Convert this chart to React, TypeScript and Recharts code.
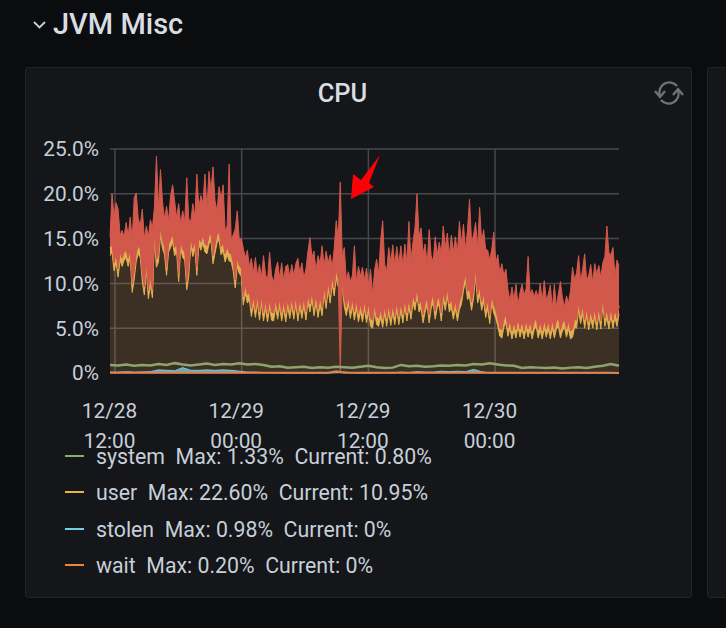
import { Area, CartesianGrid, ComposedChart, XAxis, YAxis, Line } from "recharts";

// user cpu, lower edge of the busy band, one reading per sample
const userValues = [
  13.1, 13.5, 11.4, 12.4, 10.7, 12.6, 11.9, 12.6, 12.8, 11.9,
  12.9, 9.0, 10.5, 12.5, 13.3, 12.9, 10.2, 8.7, 11.5, 8.3,
  9.8, 8.4, 15.0, 11.8, 12.4, 15.4, 13.9, 13.2, 10.9, 13.5,
  14.0, 14.6, 13.1, 13.5, 10.2, 13.9, 12.9, 12.6, 9.3, 10.8,
  14.3, 13.0, 13.9, 10.9, 14.3, 13.7, 14.5, 13.5, 13.3, 14.4,
  14.7, 12.2, 13.4, 14.5, 14.9, 13.2, 13.6, 12.4, 13.2, 12.5,
  12.4, 11.4, 9.5, 11.9, 11.1, 10.8, 7.6, 8.9, 7.8, 8.2,
  6.3, 7.7, 6.2, 7.8, 5.9, 7.7, 5.8, 7.2, 5.7, 7.3,
  5.9, 5.8, 7.3, 6.0, 7.4, 5.8, 7.2, 5.7, 7.4, 6.1,
  7.5, 6.0, 7.7, 5.8, 7.4, 6.1, 7.5, 5.9, 7.9, 6.8,
  8.2, 6.4, 7.8, 6.2, 7.6, 6.4, 8.8, 7.2, 9.3, 7.8,
  9.9, 8.6, 10.6, 9.6, 0.0, 9.5, 7.4, 6.4, 7.7, 6.1,
  7.4, 5.9, 7.2, 5.7, 6.8,
  5.7, 7.2, 5.6, 6.9, 5.2, 5.0, 6.8, 5.4, 5.2, 6.2,
  5.1, 6.6, 5.2, 6.8, 5.3, 6.7, 5.4, 7.1, 5.4, 7.0,
  5.6, 7.4, 5.8, 7.4, 6.0, 7.8, 7.0, 8.6, 6.8, 7.2,
  5.6, 6.8, 7.6, 5.6, 7.2, 7.9, 6.0, 7.3, 7.6, 5.8,
  8.1, 7.0, 8.6, 6.8, 7.3, 6.0, 7.2, 5.8, 7.1, 7.7,
  9.2, 10.2, 8.2, 8.5, 7.0, 8.4, 10.8, 7.8, 8.7, 7.0,
  8.0, 6.2, 7.2, 5.5, 7.8, 6.7, 6.1, 5.2, 4.1, 3.9,
  5.1, 5.6, 4.1, 5.0, 3.8, 4.8, 3.9, 5.2, 4.0, 4.9,
  3.8, 5.0, 4.0, 4.9, 3.8, 4.8, 5.2, 3.9, 4.8, 3.8,
  5.0, 4.0, 4.9, 3.8, 5.0, 3.9, 4.9, 5.2, 3.9, 4.7,
  5.1, 4.0, 4.9, 3.8, 4.0, 5.1, 5.0, 7.0, 5.5, 6.6,
  5.0, 6.4, 4.8, 6.1, 5.0, 6.3, 4.8, 6.5, 4.9, 7.6,
  5.2, 6.2, 4.9, 6.4, 5.0, 6.2, 5.2, 6.6,
];

// top of the red band
const peakValues = [
  15.2, 20.0, 17.5, 19.0, 18.3, 15.4, 15.9, 15.2, 16.8, 15.3,
  17.4, 14.9, 19.6, 20.1, 17.2, 16.5, 18.3, 15.0, 16.4, 15.2,
  17.1, 16.2, 18.5, 24.2, 18.4, 22.7, 19.1, 17.2, 18.6, 17.0,
  19.8, 21.0, 19.2, 17.3, 18.9, 16.6, 18.1, 16.9, 21.8, 17.2,
  16.9, 18.9, 17.4, 22.2, 18.5, 19.8, 18.9, 22.2, 18.3, 22.5,
  20.4, 23.0, 19.2, 18.1, 20.8, 19.4, 21.0, 15.9, 16.4, 23.3,
  14.9, 15.4, 16.1, 18.1, 14.9, 15.0, 13.9, 12.9, 13.7, 11.9,
  12.8, 11.2, 12.9, 10.9, 12.1, 10.7, 13.1, 11.0, 10.4, 13.5,
  10.9, 10.1, 11.6, 12.4, 10.6, 12.3, 10.3, 11.9, 12.1, 10.7,
  12.1, 10.9, 12.2, 12.8, 11.1, 12.3, 10.6, 11.6, 13.6, 15.1,
  12.9, 13.6, 11.4, 13.1, 12.2, 14.2, 11.9, 13.6, 12.3, 13.2,
  11.8, 13.9, 17.0, 14.9, 21.3, 13.0, 14.0, 10.4, 11.3, 10.2,
  10.9, 14.2, 10.1, 11.9, 10.8,
  11.8, 10.4, 11.7, 9.9, 11.6, 8.8, 11.5, 12.7, 11.1, 14.8,
  17.0, 12.1, 11.4, 14.0, 12.4, 14.3, 12.1, 14.1, 12.2, 14.2,
  12.0, 14.4, 12.3, 16.9, 12.6, 14.6, 16.2, 20.0, 15.2, 16.2,
  13.3, 14.4, 12.1, 16.0, 13.1, 12.4, 15.2, 13.2, 14.6, 13.4,
  16.4, 14.0, 15.6, 13.2, 15.4, 13.5, 15.2, 13.4, 16.9, 14.4,
  16.6, 13.8, 16.0, 19.4, 14.6, 15.4, 16.8, 14.0, 18.5, 14.6,
  16.0, 13.8, 13.7, 12.6, 13.8, 15.7, 12.3, 13.2, 11.2, 12.2,
  10.9, 11.6, 9.4, 8.0, 9.6, 8.2, 9.9, 7.6, 9.0, 9.9,
  8.7, 9.4, 13.0, 8.8, 9.3, 8.5, 9.2, 8.3, 10.0, 8.0,
  10.3, 8.2, 8.8, 9.8, 7.2, 9.9, 7.4, 8.9, 10.2, 8.4,
  7.4, 8.6, 7.8, 9.2, 11.8, 10.4, 11.2, 13.1, 10.2, 11.6,
  13.3, 10.3, 10.9, 12.1, 10.1, 12.2, 11.0, 12.0, 10.7, 12.3,
  13.0, 16.4, 13.4, 13.2, 14.0, 10.9, 12.6, 11.9,
];

// slower metrics, one reading every 4th sample
const systemValues = [
  0.9, 0.85, 0.95, 0.8, 0.9, 0.85, 1.0, 0.9, 1.1, 0.95,
  0.85, 0.95, 1.05, 0.9, 1.0, 0.95, 1.1, 0.95, 1.0, 0.9,
  0.7, 0.75, 0.6, 0.65, 0.7, 0.55, 0.65, 0.6, 0.7, 0.65,
  0.6, 0.7, 0.8, 0.65, 0.55, 0.6, 0.9, 0.75, 0.8, 0.7,
  0.75, 0.85, 0.8, 0.9, 0.85, 1.0, 0.95, 1.1, 0.95, 0.85,
  0.8, 0.55, 0.65, 0.6, 0.55, 0.6, 0.5, 0.6, 0.65, 0.55,
  0.7, 0.8, 1.0, 0.8,
];
const stolenValues = [
  0.1, 0.1, 0.15, 0.1, 0.12, 0.15, 0.35, 0.3, 0.25, 0.6,
  0.3, 0.3, 0.35, 0.3, 0.35, 0.3, 0.2, 0.1, 0.1, 0.05,
  0.05, 0.02, 0, 0, 0, 0, 0, 0, 0.05, 0.12,
  0.02, 0, 0, 0, 0.05, 0.02, 0.1, 0.05, 0.15, 0.1,
  0.1, 0.2, 0.15, 0.2, 0.15, 0.4, 0.15, 0, 0, 0,
  0, 0, 0, 0, 0, 0, 0, 0, 0, 0,
  0, 0, 0, 0,
];
const waitValues = [
  0.02, 0.02, 0.02, 0.03, 0.02, 0.02, 0.02, 0.02, 0.03, 0.02,
  0.02, 0.02, 0.02, 0.02, 0.03, 0.02, 0.02, 0.02, 0.02, 0.02,
  0.02, 0.02, 0.02, 0.02, 0.02, 0.02, 0.02, 0.03, 0.2, 0.02,
  0.02, 0.02, 0.02, 0.02, 0.02, 0.02, 0.02, 0.02, 0.02, 0.02,
  0.02, 0.02, 0.02, 0.02, 0.02, 0.02, 0.02, 0.02, 0.02, 0.02,
  0.02, 0.02, 0.03, 0.02, 0.02, 0.02, 0.02, 0.02, 0.02, 0.02,
  0.02, 0.02, 0.02, 0,
];

const xTicks = [12, 24, 36, 48];
const xTickDates = ["12/28", "12/29", "12/29", "12/30"];
const xTickTimes = ["12:00", "00:00", "12:00", "00:00"];
const yTicks = [0, 5, 10, 15, 20, 25];

const legendNames = ["system", "user", "stolen", "wait"];
const legendMax = ["1.33%", "22.60%", "0.98%", "0.20%"];
const legendCurrent = ["0.80%", "10.95%", "0%", "0%"];
const legendColors = ["#7eb26d", "#eab839", "#6ed0e0", "#ef843c"];

const START_HOUR = 11.53;
const STEP_HOURS = 0.1913;
// yellow rim between the user value and the red band
const RIM = 0.9;

const table = userValues.map((user, i) => ({
  hour: START_HOUR + i * STEP_HOURS,
  // the single drop to zero only shows in the red band
  user: user > 0 ? user : null,
  rim: user > 0 ? [user, user + RIM] : null,
  band: [user > 0 ? user + RIM : 0, peakValues[i]],
  system: i % 4 === 0 ? systemValues[i / 4] : null,
  stolen: i % 4 === 0 ? stolenValues[i / 4] : null,
  wait: i % 4 === 0 ? waitValues[i / 4] : null,
}));

const textColor = "#c7d0d9";
const font = "Roboto, sans-serif";

function TimeTick({ x, payload }: any) {
  const i = xTicks.indexOf(payload.value);
  return (
    <text textAnchor="middle" fill={textColor} fontFamily={font} fontSize={20.8}>
      <tspan x={x - 5.5} y={418}>{xTickDates[i]}</tspan>
      <tspan x={x - 5.5} y={448}>{xTickTimes[i]}</tspan>
    </text>
  );
}

export default function App() {
  return (
    <div style={{ position: "fixed", left: 0, top: 0, width: 726, height: 628, background: "#0b0c0e", overflow: "hidden", fontFamily: font }}>
      <svg width={16} height={10} style={{ position: "absolute", left: 32, top: 20 }}>
        <path d="M2 2 L7.5 7.5 L13 2" fill="none" stroke={textColor} strokeWidth={1.8} />
      </svg>
      <div style={{ position: "absolute", left: 53, top: 7, fontSize: 29, fontWeight: 500, color: "#d8dde4" }}>JVM Misc</div>

      <div style={{ position: "absolute", left: 25, top: 67, width: 665, height: 529, background: "#141619", border: "1px solid #222428", borderRadius: 3 }} />
      <div style={{ position: "absolute", left: 707, top: 67, width: 30, height: 529, background: "#141619", border: "1px solid #222428", borderRadius: 3 }} />

      <div style={{ position: "absolute", left: 25, top: 78, width: 635, textAlign: "center", fontSize: 25.5, fontWeight: 500, color: "#d8dde4" }}>CPU</div>

      <svg width={32} height={28} viewBox="0 0 32 28" style={{ position: "absolute", left: 653, top: 79 }} fill="none" stroke="#6f7276" strokeWidth={2.4}>
        <path d="M7 17 A10 10 0 0 1 24 7" />
        <path d="M25 11 A10 10 0 0 1 8 21" />
        <path d="M2 12 L7 18 L12 12" />
        <path d="M20 16 L25 10 L30 16" />
      </svg>

      <div style={{ position: "absolute", left: 0, top: 0 }}>
        <ComposedChart width={726} height={628} data={table} margin={{ top: 149, right: 107, bottom: 195, left: 20 }}>
          <CartesianGrid stroke="#46484c" strokeWidth={1.5} verticalValues={xTicks} horizontalValues={yTicks} />
          <XAxis
            dataKey="hour"
            type="number"
            domain={[START_HOUR, START_HOUR + (userValues.length - 1) * STEP_HOURS]}
            ticks={xTicks}
            tick={<TimeTick />}
            tickLine={false}
            axisLine={false}
            height={60}
            interval={0}
          />
          <YAxis
            width={90}
            domain={[0, 25]}
            ticks={yTicks}
            tickLine={false}
            axisLine={false}
            tickMargin={5}
            tick={{ fill: textColor, fontSize: 20.8, fontFamily: font }}
            tickFormatter={(v: number) => (v === 0 ? "0%" : `${v.toFixed(1)}%`)}
          />
          <Area dataKey="user" stroke="none" fill="#e8a458" fillOpacity={0.19} dot={false} connectNulls isAnimationActive={false} />
          <Area dataKey="rim" stroke="#e3b04f" strokeWidth={1} fill="#e3b04f" fillOpacity={1} dot={false} connectNulls isAnimationActive={false} />
          <Area dataKey="band" stroke="#d2584c" strokeWidth={1} fill="#d2584c" fillOpacity={1} dot={false} isAnimationActive={false} />
          <Line dataKey="system" stroke="#8da56c" strokeWidth={2.5} dot={false} connectNulls isAnimationActive={false} />
          <Area dataKey="stolen" stroke="#7cc4da" strokeWidth={1} fill="#7cc4da" fillOpacity={0.8} dot={false} connectNulls isAnimationActive={false} />
          <Line dataKey="wait" stroke="#e0834a" strokeWidth={2} dot={false} connectNulls isAnimationActive={false} />
        </ComposedChart>
      </div>

      {/* red arrow drawn on the screenshot */}
      <svg width={726} height={628} style={{ position: "absolute", left: 0, top: 0, pointerEvents: "none" }}>
        <polygon points="351,199 353,174 361,180 380,155 369,183 374,187" fill="#fb0007" />
      </svg>

      {legendNames.map((name, i) => (
        <div key={name} style={{ position: "absolute", left: 65, top: [443, 479, 516, 552][i], height: 26, display: "flex", alignItems: "center", fontSize: 21.3, color: textColor, whiteSpace: "pre" }}>
          <span style={{ display: "inline-block", width: 19, height: 2, marginRight: 12, background: legendColors[i] }} />
          {`${name}  Max: ${legendMax[i]}  Current: ${legendCurrent[i]}`}
        </div>
      ))}
    </div>
  );
}
